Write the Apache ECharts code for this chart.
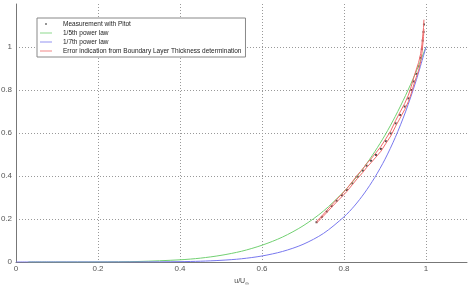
<!DOCTYPE html>
<html>
<head>
<meta charset="utf-8">
<script src="https://cdn.jsdelivr.net/npm/echarts@6/dist/echarts.min.js"></script>
<style>
  html, body { margin: 0; padding: 0; background: #fff; }
  #chart { width: 470px; height: 285px; }
</style>
</head>
<body>
<div id="chart"></div>
<script>
// measured profile (u/U, y/delta)
var pitotX = [0.733, 0.746, 0.758, 0.770, 0.782, 0.795, 0.807, 0.820, 0.833, 0.846, 0.855, 0.866, 0.878, 0.890, 0.902, 0.914, 0.926, 0.937, 0.948, 0.957, 0.964, 0.970, 0.976, 0.982, 0.987, 0.990, 0.992, 0.994, 0.995];
var pitotY = [0.185, 0.210, 0.235, 0.260, 0.285, 0.310, 0.335, 0.366, 0.397, 0.425, 0.448, 0.471, 0.498, 0.526, 0.562, 0.598, 0.645, 0.684, 0.723, 0.761, 0.800, 0.840, 0.875, 0.910, 0.950, 0.990, 1.030, 1.070, 1.105];
// error band (upper / lower boundary layer thickness)
var errUpperY = [0.189, 0.214, 0.240, 0.265, 0.291, 0.316, 0.342, 0.373, 0.405, 0.434, 0.457, 0.480, 0.508, 0.537, 0.573, 0.610, 0.658, 0.698, 0.737, 0.776, 0.816, 0.857, 0.893, 0.928, 0.969, 1.010, 1.051, 1.091, 1.127];
var errLowerY = [0.181, 0.206, 0.230, 0.255, 0.279, 0.304, 0.328, 0.359, 0.389, 0.417, 0.439, 0.462, 0.488, 0.515, 0.551, 0.586, 0.632, 0.670, 0.709, 0.746, 0.784, 0.823, 0.858, 0.892, 0.931, 0.970, 1.009, 1.049, 1.083];
// power laws
var lawX = [0.0, 0.03, 0.1, 0.2, 0.3, 0.4, 0.45, 0.5, 0.55, 0.6, 0.65, 0.7, 0.75, 0.8, 0.825, 0.85, 0.875, 0.9, 0.925, 0.95, 0.975, 1.0];
var fifthY = [null, 0.0, 0.00001, 0.0003, 0.0024, 0.0102, 0.018, 0.031, 0.050, 0.078, 0.116, 0.168, 0.237, 0.328, 0.382, 0.444, 0.513, 0.590, 0.677, 0.774, 0.881, 1.0];
var seventhY = [0.0, 0.0, 0.0, 0.00001, 0.0002, 0.0016, 0.0037, 0.0078, 0.015, 0.028, 0.049, 0.082, 0.133, 0.210, 0.260, 0.321, 0.393, 0.478, 0.579, 0.698, 0.838, 1.0];

function pairs(xs, ys) {
    var out = [];
    for (var i = 0; i < xs.length; i++) {
        if (ys[i] !== null) out.push([xs[i], ys[i]]);
    }
    return out;
}

var chart = echarts.init(document.getElementById('chart'));
var gridLine = { show: true, showMaxLine: false, lineStyle: { color: '#999', type: [1, 2], width: 1 } };
var labelStyle = { color: '#555', fontSize: 8, fontFamily: 'Liberation Sans, Arial, sans-serif' };
var lineIcon = 'path://M0,0M12,8M0,3.6h12v0.8h-12z';

chart.setOption({
    animation: false,
    grid: { left: 16, right: 3, top: 4, bottom: 23, containLabel: false, outerBoundsMode: 'none' },
    legend: {
        orient: 'vertical',
        left: 37,
        top: 18,
        padding: [2, 4, 2, 3],
        itemGap: 1,
        itemWidth: 12,
        itemHeight: 8,
        backgroundColor: '#fff',
        borderColor: '#888',
        borderWidth: 1,
        textStyle: { color: '#222', fontSize: 6.5, fontFamily: 'Liberation Sans, Arial, sans-serif', padding: [0, 0, 0, 6] },
        data: [
            { name: 'Measurement with Pitot', icon: 'path://M0,0M12,8M5.2,3.2h1.6v1.6h-1.6z' },
            { name: '1/5th power law', icon: lineIcon },
            { name: '1/7th power law', icon: lineIcon },
            { name: 'Error indication from Boundary Layer Thickness determination', icon: lineIcon }
        ]
    },
    xAxis: {
        type: 'value',
        min: 0,
        max: 1.1,
        interval: 0.2,
        name: 'u/U{s|∞}',
        nameLocation: 'middle',
        nameGap: 13,
        nameTextStyle: {
            color: '#444', fontSize: 7, fontFamily: 'Liberation Sans, Arial, sans-serif',
            rich: { s: { fontSize: 5, color: '#444', verticalAlign: 'bottom', padding: [4, 0, 0, 0] } }
        },
        axisLine: { lineStyle: { color: '#777', width: 1 } },
        axisTick: { show: false },
        axisLabel: Object.assign({ margin: 3, showMaxLabel: false }, labelStyle),
        splitLine: gridLine
    },
    yAxis: {
        type: 'value',
        min: 0,
        max: 1.2,
        interval: 0.2,
        name: 'y/δ',
        nameLocation: 'middle',
        nameRotate: 90,
        nameGap: 15,
        nameTextStyle: { color: '#444', fontSize: 7, fontFamily: 'Liberation Sans, Arial, sans-serif' },
        axisLine: { show: true, lineStyle: { color: '#777', width: 1 } },
        axisTick: { show: false },
        axisLabel: Object.assign({ margin: 4, showMaxLabel: false }, labelStyle),
        splitLine: gridLine
    },
    series: [
        {
            name: '1/5th power law',
            type: 'line',
            symbol: 'none',
            smooth: 0.3,
            data: pairs(lawX, fifthY),
            color: '#72d072',
            lineStyle: { width: 1 }
        },
        {
            name: '1/7th power law',
            type: 'line',
            symbol: 'none',
            smooth: 0.3,
            data: pairs(lawX, seventhY),
            color: '#7878ee',
            lineStyle: { width: 1 }
        },
        {
            name: 'Error indication from Boundary Layer Thickness determination',
            type: 'line',
            symbol: 'none',
            data: pairs(pitotX, errUpperY),
            color: '#ee6a6a',
            lineStyle: { width: 1 }
        },
        {
            name: 'Error indication from Boundary Layer Thickness determination',
            type: 'line',
            symbol: 'none',
            data: pairs(pitotX, errLowerY),
            color: '#ee6a6a',
            lineStyle: { width: 1 }
        },
        {
            name: 'Measurement with Pitot',
            type: 'scatter',
            symbol: 'rect',
            symbolSize: 2,
            data: pairs(pitotX, pitotY),
            color: '#222'
        }
    ]
});
</script>
</body>
</html>
